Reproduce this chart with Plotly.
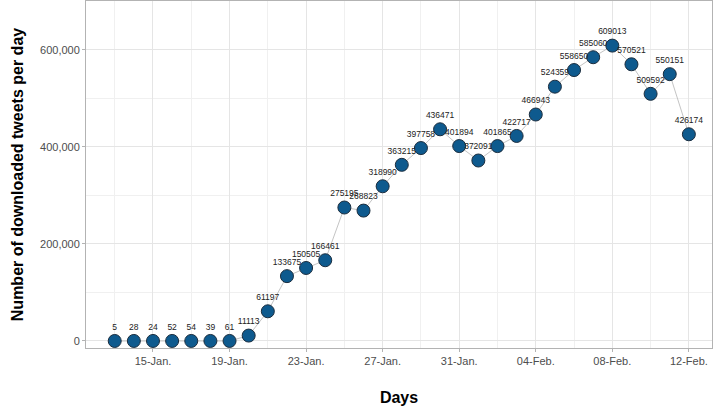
import plotly.graph_objects as go
import pandas as pd

dates = pd.date_range("2020-01-13", "2020-02-12", freq="D")
counts = [5, 28, 24, 52, 54, 39, 61, 11113, 61197, 133675, 150505, 166461,
          275195, 268823, 318990, 363215, 397758, 436471, 401894,
          372091, 401865, 422717, 466943, 524359, 558650, 585060, 609013,
          570521, 509592, 550151, 426174]
labels = [str(v) for v in counts]

fig = go.Figure()
fig.add_trace(go.Scatter(
    x=dates, y=counts, mode="lines+markers+text",
    text=labels, textposition="top center",
    textfont=dict(family="Liberation Sans, Arial", size=8.5, color="#222222"),
    line=dict(color="#c4c4c4", width=1),
    marker=dict(size=13, color="#0e5a8e", line=dict(color="#1b2d3e", width=1)),
    cliponaxis=False, showlegend=False,
))

DAY = 86400000
fig.update_layout(
    width=714, height=409,
    margin=dict(l=86, r=2, t=1, b=61),
    plot_bgcolor="white", paper_bgcolor="white",
    font=dict(family="Liberation Sans, Arial", color="#4d4d4d"),
    xaxis=dict(
        type="date", range=["2020-01-11 12:00", "2020-02-13 05:00"],
        tick0="2020-01-15", dtick=4 * DAY, tickformat="%d-%b.",
        ticks="outside", ticklen=3, tickcolor="#b3b3b3",
        tickfont=dict(size=11, color="#4d4d4d"),
        showgrid=True, gridcolor="#e5e5e5", gridwidth=1,
        minor=dict(dtick=2 * DAY, tick0="2020-01-13", showgrid=True,
                   gridcolor="#f0f0f0", gridwidth=1),
        showline=True, linecolor="#b3b3b3", linewidth=1, mirror=True,
        zeroline=False,
        title=dict(text="<b>Days</b>", font=dict(size=16, color="#000000"), standoff=25),
    ),
    yaxis=dict(
        range=[-14500, 701000],
        tickvals=[0, 200000, 400000, 600000], tickformat=",d",
        ticks="outside", ticklen=3, tickcolor="#b3b3b3",
        tickfont=dict(size=11, color="#4d4d4d"),
        showgrid=True, gridcolor="#e5e5e5", gridwidth=1,
        minor=dict(tickvals=[100000, 300000, 500000], showgrid=True,
                   gridcolor="#f0f0f0", gridwidth=1),
        showline=True, linecolor="#b3b3b3", linewidth=1, mirror=True,
        zeroline=False,
        title=dict(text="<b>Number of downloaded tweets per day</b>",
                   font=dict(size=16, color="#000000"), standoff=12),
    ),
)

fig.write_html("out.html", config={"displayModeBar": False},
               post_script="document.body.style.margin='0';")
